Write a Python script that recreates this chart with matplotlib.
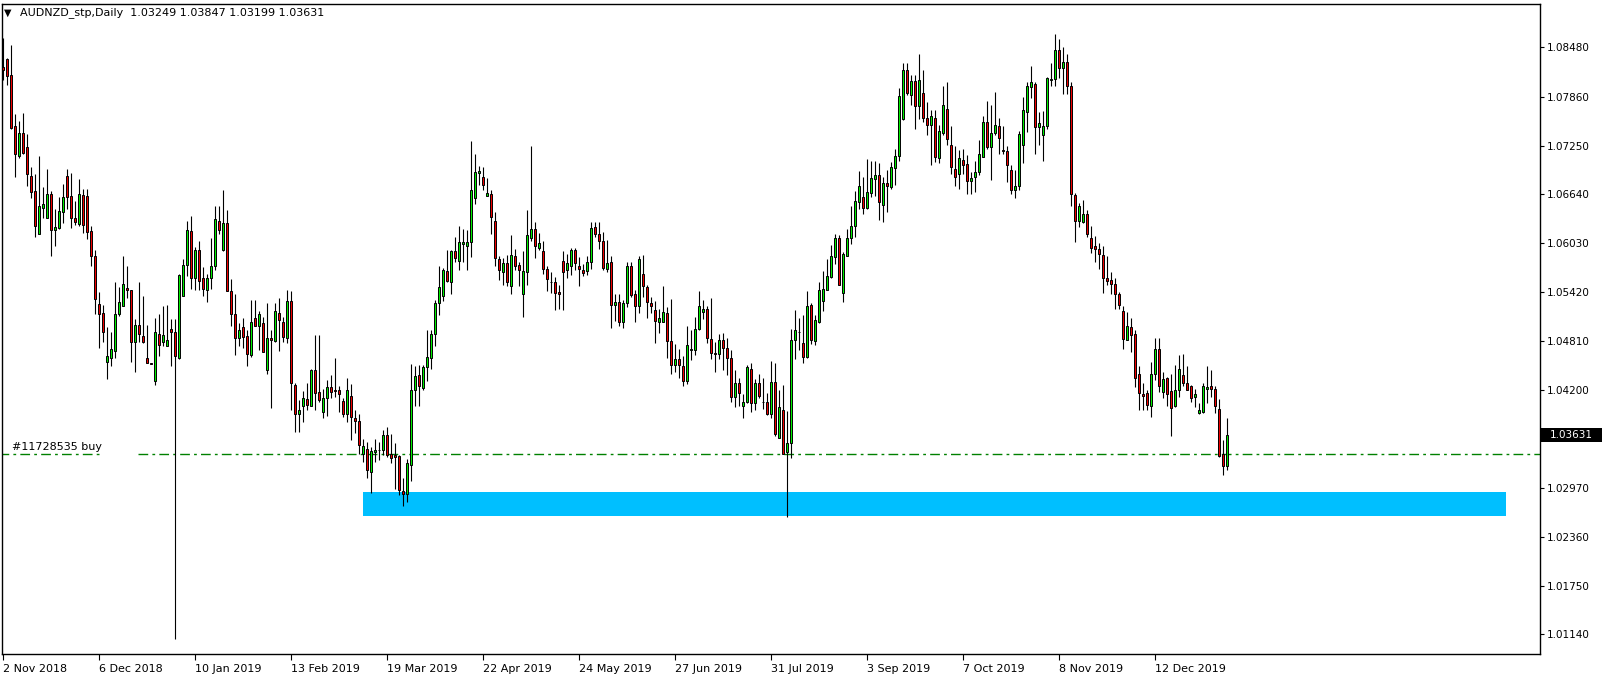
import numpy as np
import matplotlib.pyplot as plt
from matplotlib.patches import Rectangle

# daily AUDNZD bars, 2 Nov 2018 .. early Jan 2020
opens = [
    1.0823, 1.0833, 1.0813, 1.0749, 1.0712, 1.0741, 1.0723, 1.0687, 1.0668, 1.0614,
    1.0647, 1.0635, 1.0664, 1.0619, 1.0622, 1.0642, 1.0687, 1.0662, 1.0634, 1.0627,
    1.0663, 1.0662, 1.0618, 1.0587, 1.0527, 1.0516, 1.0454, 1.0460, 1.0468, 1.0515,
    1.0525, 1.0547, 1.0544, 1.0480, 1.0501, 1.0487, 1.0459, 1.0453, 1.0431, 1.0489,
    1.0479, 1.0475, 1.0496, 1.0492, 1.0459, 1.0537, 1.0576, 1.0618, 1.0560, 1.0594,
    1.0559, 1.0545, 1.0559, 1.0574, 1.0631, 1.0594, 1.0628, 1.0543, 1.0514, 1.0485,
    1.0498, 1.0487, 1.0463, 1.0509, 1.0500, 1.0503, 1.0444, 1.0484, 1.0481, 1.0516,
    1.0505, 1.0485, 1.0531, 1.0426, 1.0389, 1.0399, 1.0408, 1.0400, 1.0444, 1.0417,
    1.0392, 1.0409, 1.0423, 1.0419, 1.0419, 1.0406, 1.0390, 1.0412, 1.0385, 1.0381,
    1.0339, 1.0346, 1.0317, 1.0342, 1.0344, 1.0344, 1.0363, 1.0339, 1.0338, 1.0337,
    1.0293, 1.0290, 1.0326, 1.0420, 1.0438, 1.0422, 1.0448, 1.0460, 1.0490, 1.0528,
    1.0537, 1.0568, 1.0554, 1.0593, 1.0581, 1.0602, 1.0600, 1.0605, 1.0659, 1.0691,
    1.0686, 1.0662, 1.0665, 1.0631, 1.0583, 1.0567, 1.0578, 1.0550, 1.0587, 1.0576,
    1.0540, 1.0567, 1.0610, 1.0621, 1.0597, 1.0593, 1.0571, 1.0554, 1.0554, 1.0542,
    1.0581, 1.0570, 1.0574, 1.0594, 1.0574, 1.0570, 1.0568, 1.0579, 1.0623, 1.0614,
    1.0606, 1.0571, 1.0579, 1.0526, 1.0530, 1.0504, 1.0528, 1.0574, 1.0539, 1.0525,
    1.0565, 1.0548, 1.0528, 1.0519, 1.0504, 1.0505, 1.0516, 1.0481, 1.0451, 1.0458,
    1.0449, 1.0431, 1.0470, 1.0470, 1.0496, 1.0517, 1.0521, 1.0483, 1.0466, 1.0465,
    1.0482, 1.0472, 1.0460, 1.0411, 1.0428, 1.0399, 1.0404, 1.0446, 1.0403, 1.0428,
    1.0404, 1.0404, 1.0389, 1.0429, 1.0359, 1.0395, 1.0342, 1.0353, 1.0482, 1.0492,
    1.0478, 1.0461, 1.0526, 1.0481, 1.0504, 1.0531, 1.0545, 1.0561, 1.0586, 1.0610,
    1.0541, 1.0587, 1.0609, 1.0624, 1.0655, 1.0661, 1.0647, 1.0666, 1.0683, 1.0688,
    1.0651, 1.0678, 1.0673, 1.0697, 1.0712, 1.0758, 1.0819, 1.0788, 1.0806, 1.0775,
    1.0791, 1.0759, 1.0751, 1.0760, 1.0710, 1.0741, 1.0771, 1.0726, 1.0696, 1.0689,
    1.0707, 1.0702, 1.0681, 1.0686, 1.0692, 1.0711, 1.0755, 1.0723, 1.0741, 1.0749,
    1.0719, 1.0718, 1.0695, 1.0669, 1.0674, 1.0726, 1.0767, 1.0798, 1.0802, 1.0748,
    1.0738, 1.0749, 1.0807, 1.0808, 1.0845, 1.0822, 1.0830, 1.0800, 1.0663, 1.0631,
    1.0630, 1.0639, 1.0610, 1.0599, 1.0596, 1.0588, 1.0559, 1.0557, 1.0552, 1.0540,
    1.0518, 1.0482, 1.0498, 1.0489, 1.0439, 1.0414, 1.0416, 1.0400, 1.0439, 1.0471,
    1.0417, 1.0434, 1.0418, 1.0399, 1.0419, 1.0438, 1.0428, 1.0424, 1.0411, 1.0391,
    1.0392, 1.0421, 1.0424, 1.0421, 1.0396, 1.0339, 1.03249,
]
highs = [
    1.0859, 1.0835, 1.0851, 1.0764, 1.0756, 1.0766, 1.0739, 1.0698, 1.0689, 1.0712,
    1.0673, 1.0696, 1.0668, 1.0646, 1.0661, 1.0677, 1.0696, 1.0691, 1.0656, 1.0683,
    1.0671, 1.0671, 1.0624, 1.0594, 1.0542, 1.0526, 1.0498, 1.0492, 1.0554, 1.0548,
    1.0587, 1.0575, 1.0544, 1.0508, 1.0554, 1.0537, 1.0501, 1.0453, 1.0510, 1.0515,
    1.0524, 1.0526, 1.0508, 1.0508, 1.0565, 1.0583, 1.0631, 1.0637, 1.0598, 1.0606,
    1.0573, 1.0565, 1.0609, 1.0649, 1.0649, 1.0669, 1.0644, 1.0558, 1.0540, 1.0503,
    1.0509, 1.0494, 1.0532, 1.0532, 1.0518, 1.0511, 1.0528, 1.0494, 1.0528, 1.0534,
    1.0511, 1.0544, 1.0543, 1.0428, 1.0407, 1.0418, 1.0428, 1.0446, 1.0488, 1.0488,
    1.0421, 1.0432, 1.0438, 1.0459, 1.0424, 1.0409, 1.0435, 1.0427, 1.0395, 1.0390,
    1.0358, 1.0355, 1.0348, 1.0358, 1.0355, 1.0370, 1.0373, 1.0365, 1.0353, 1.0338,
    1.0310, 1.0333, 1.0452, 1.0449, 1.0451, 1.0451, 1.0495, 1.0494, 1.0532, 1.0574,
    1.0572, 1.0595, 1.0594, 1.0611, 1.0624, 1.0621, 1.0619, 1.0731, 1.0714, 1.0699,
    1.0698, 1.0684, 1.0669, 1.0642, 1.0587, 1.0584, 1.0588, 1.0613, 1.0596, 1.0580,
    1.0593, 1.0644, 1.0724, 1.0629, 1.0616, 1.0606, 1.0574, 1.0567, 1.0561, 1.0551,
    1.0593, 1.0589, 1.0597, 1.0597, 1.0586, 1.0577, 1.0587, 1.0629, 1.0629, 1.0629,
    1.0617, 1.0607, 1.0587, 1.0540, 1.0540, 1.0532, 1.0579, 1.0579, 1.0544, 1.0587,
    1.0588, 1.0551, 1.0536, 1.0531, 1.0521, 1.0549, 1.0523, 1.0533, 1.0477, 1.0471,
    1.0462, 1.0499, 1.0494, 1.0511, 1.0543, 1.0532, 1.0524, 1.0534, 1.0479, 1.0490,
    1.0491, 1.0485, 1.0469, 1.0444, 1.0434, 1.0415, 1.0451, 1.0453, 1.0433, 1.0439,
    1.0434, 1.0416, 1.0456, 1.0453, 1.0419, 1.0426, 1.0393, 1.0496, 1.0520, 1.0509,
    1.0513, 1.0543, 1.0528, 1.0513, 1.0555, 1.0568, 1.0583, 1.0601, 1.0615, 1.0613,
    1.0592, 1.0621, 1.0649, 1.0668, 1.0693, 1.0686, 1.0708, 1.0706, 1.0706, 1.0703,
    1.0686, 1.0694, 1.0705, 1.0721, 1.0797, 1.0828, 1.0828, 1.0813, 1.0813, 1.0839,
    1.0819, 1.0780, 1.0769, 1.0770, 1.0751, 1.0799, 1.0804, 1.0749, 1.0725, 1.0719,
    1.0721, 1.0713, 1.0692, 1.0706, 1.0732, 1.0762, 1.0781, 1.0776, 1.0792, 1.0759,
    1.0749, 1.0724, 1.0701, 1.0694, 1.0743, 1.0786, 1.0805, 1.0824, 1.0805, 1.0767,
    1.0768, 1.0811, 1.0828, 1.0864, 1.0858, 1.0848, 1.0840, 1.0805, 1.0666, 1.0653,
    1.0657, 1.0644, 1.0624, 1.0612, 1.0603, 1.0599, 1.0587, 1.0567, 1.0559, 1.0542,
    1.0524, 1.0517, 1.0509, 1.0494, 1.0449, 1.0428, 1.0419, 1.0455, 1.0484, 1.0484,
    1.0442, 1.0436, 1.0439, 1.0451, 1.0463, 1.0465, 1.0450, 1.0426, 1.0421, 1.0403,
    1.0428, 1.0449, 1.0444, 1.0424, 1.0408, 1.0357, 1.03847,
]
lows = [
    1.0807, 1.0801, 1.0746, 1.0686, 1.0710, 1.0715, 1.0675, 1.0660, 1.0611, 1.0614,
    1.0635, 1.0635, 1.0587, 1.0599, 1.0621, 1.0628, 1.0646, 1.0622, 1.0626, 1.0625,
    1.0616, 1.0608, 1.0574, 1.0514, 1.0472, 1.0480, 1.0433, 1.0450, 1.0459, 1.0512,
    1.0525, 1.0534, 1.0455, 1.0442, 1.0480, 1.0478, 1.0453, 1.0452, 1.0426, 1.0462,
    1.0474, 1.0475, 1.0450, 1.0108, 1.0458, 1.0537, 1.0562, 1.0546, 1.0544, 1.0544,
    1.0537, 1.0530, 1.0546, 1.0569, 1.0615, 1.0593, 1.0543, 1.0500, 1.0463, 1.0474,
    1.0472, 1.0449, 1.0461, 1.0499, 1.0469, 1.0467, 1.0440, 1.0397, 1.0480, 1.0468,
    1.0479, 1.0478, 1.0394, 1.0367, 1.0367, 1.0379, 1.0395, 1.0399, 1.0394, 1.0405,
    1.0384, 1.0387, 1.0409, 1.0411, 1.0392, 1.0386, 1.0379, 1.0357, 1.0366, 1.0340,
    1.0330, 1.0309, 1.0291, 1.0330, 1.0332, 1.0338, 1.0336, 1.0328, 1.0296, 1.0288,
    1.0274, 1.0279, 1.0306, 1.0400, 1.0399, 1.0419, 1.0431, 1.0446, 1.0474, 1.0513,
    1.0531, 1.0554, 1.0539, 1.0579, 1.0569, 1.0580, 1.0569, 1.0586, 1.0652, 1.0676,
    1.0669, 1.0662, 1.0615, 1.0574, 1.0557, 1.0551, 1.0549, 1.0540, 1.0569, 1.0550,
    1.0511, 1.0551, 1.0606, 1.0585, 1.0594, 1.0564, 1.0543, 1.0541, 1.0519, 1.0521,
    1.0519, 1.0559, 1.0563, 1.0569, 1.0549, 1.0562, 1.0563, 1.0571, 1.0611, 1.0596,
    1.0569, 1.0567, 1.0497, 1.0506, 1.0499, 1.0497, 1.0523, 1.0536, 1.0504, 1.0516,
    1.0536, 1.0510, 1.0516, 1.0478, 1.0491, 1.0504, 1.0460, 1.0440, 1.0442, 1.0435,
    1.0425, 1.0427, 1.0457, 1.0463, 1.0494, 1.0508, 1.0478, 1.0458, 1.0442, 1.0458,
    1.0444, 1.0438, 1.0405, 1.0398, 1.0399, 1.0384, 1.0403, 1.0392, 1.0395, 1.0410,
    1.0396, 1.0388, 1.0384, 1.0362, 1.0359, 1.0339, 1.0261, 1.0335, 1.0458, 1.0469,
    1.0453, 1.0460, 1.0477, 1.0476, 1.0503, 1.0518, 1.0544, 1.0560, 1.0577, 1.0551,
    1.0530, 1.0587, 1.0602, 1.0611, 1.0646, 1.0639, 1.0646, 1.0661, 1.0662, 1.0632,
    1.0630, 1.0642, 1.0671, 1.0676, 1.0706, 1.0757, 1.0788, 1.0776, 1.0746, 1.0758,
    1.0754, 1.0738, 1.0701, 1.0705, 1.0703, 1.0738, 1.0726, 1.0690, 1.0674, 1.0671,
    1.0690, 1.0664, 1.0665, 1.0667, 1.0688, 1.0711, 1.0721, 1.0682, 1.0738, 1.0715,
    1.0714, 1.0680, 1.0664, 1.0659, 1.0669, 1.0703, 1.0742, 1.0784, 1.0714, 1.0726,
    1.0706, 1.0746, 1.0799, 1.0800, 1.0810, 1.0790, 1.0790, 1.0649, 1.0604, 1.0623,
    1.0628, 1.0611, 1.0591, 1.0579, 1.0571, 1.0541, 1.0551, 1.0540, 1.0521, 1.0521,
    1.0471, 1.0482, 1.0467, 1.0423, 1.0394, 1.0394, 1.0394, 1.0386, 1.0432, 1.0417,
    1.0410, 1.0400, 1.0362, 1.0398, 1.0411, 1.0424, 1.0419, 1.0405, 1.0398, 1.0389,
    1.0391, 1.0403, 1.0411, 1.0391, 1.0336, 1.0313, 1.03199,
]
closes = [
    1.0820, 1.0812, 1.0747, 1.0715, 1.0741, 1.0716, 1.0689, 1.0667, 1.0624, 1.0650,
    1.0652, 1.0664, 1.0619, 1.0623, 1.0643, 1.0661, 1.0661, 1.0634, 1.0629, 1.0664,
    1.0626, 1.0617, 1.0587, 1.0533, 1.0515, 1.0492, 1.0462, 1.0471, 1.0515, 1.0530,
    1.0552, 1.0544, 1.0480, 1.0501, 1.0489, 1.0480, 1.0453, 1.0452, 1.0492, 1.0476,
    1.0488, 1.0482, 1.0492, 1.0462, 1.0563, 1.0576, 1.0619, 1.0560, 1.0594, 1.0556,
    1.0546, 1.0559, 1.0575, 1.0633, 1.0619, 1.0628, 1.0543, 1.0515, 1.0485, 1.0495,
    1.0486, 1.0465, 1.0504, 1.0500, 1.0514, 1.0467, 1.0485, 1.0482, 1.0518, 1.0507,
    1.0486, 1.0531, 1.0428, 1.0389, 1.0395, 1.0409, 1.0401, 1.0445, 1.0416, 1.0407,
    1.0410, 1.0423, 1.0417, 1.0418, 1.0414, 1.0390, 1.0420, 1.0386, 1.0381, 1.0351,
    1.0349, 1.0319, 1.0343, 1.0345, 1.0345, 1.0363, 1.0338, 1.0335, 1.0336, 1.0294,
    1.0290, 1.0328, 1.0420, 1.0437, 1.0424, 1.0448, 1.0461, 1.0490, 1.0528, 1.0548,
    1.0569, 1.0556, 1.0593, 1.0584, 1.0605, 1.0604, 1.0605, 1.0669, 1.0692, 1.0693,
    1.0676, 1.0666, 1.0636, 1.0585, 1.0569, 1.0578, 1.0554, 1.0588, 1.0575, 1.0569,
    1.0568, 1.0613, 1.0621, 1.0600, 1.0603, 1.0571, 1.0558, 1.0554, 1.0541, 1.0539,
    1.0567, 1.0578, 1.0594, 1.0578, 1.0571, 1.0566, 1.0579, 1.0622, 1.0614, 1.0606,
    1.0572, 1.0578, 1.0526, 1.0530, 1.0505, 1.0528, 1.0574, 1.0538, 1.0525, 1.0583,
    1.0550, 1.0529, 1.0524, 1.0506, 1.0509, 1.0517, 1.0481, 1.0451, 1.0458, 1.0451,
    1.0431, 1.0476, 1.0471, 1.0496, 1.0525, 1.0521, 1.0484, 1.0466, 1.0465, 1.0482,
    1.0472, 1.0460, 1.0411, 1.0428, 1.0416, 1.0404, 1.0448, 1.0403, 1.0428, 1.0412,
    1.0404, 1.0389, 1.0429, 1.0364, 1.0398, 1.0339, 1.0353, 1.0482, 1.0495, 1.0492,
    1.0461, 1.0524, 1.0482, 1.0507, 1.0545, 1.0546, 1.0562, 1.0587, 1.0610, 1.0551,
    1.0589, 1.0610, 1.0625, 1.0656, 1.0674, 1.0647, 1.0667, 1.0684, 1.0688, 1.0655,
    1.0678, 1.0674, 1.0698, 1.0712, 1.0787, 1.0819, 1.0791, 1.0806, 1.0775, 1.0807,
    1.0759, 1.0751, 1.0762, 1.0711, 1.0743, 1.0776, 1.0733, 1.0698, 1.0686, 1.0710,
    1.0701, 1.0681, 1.0685, 1.0692, 1.0714, 1.0755, 1.0723, 1.0741, 1.0751, 1.0734,
    1.0718, 1.0701, 1.0669, 1.0674, 1.0740, 1.0769, 1.0799, 1.0804, 1.0748, 1.0753,
    1.0749, 1.0810, 1.0808, 1.0845, 1.0822, 1.0830, 1.0800, 1.0664, 1.0631, 1.0650,
    1.0639, 1.0614, 1.0597, 1.0596, 1.0589, 1.0559, 1.0556, 1.0552, 1.0540, 1.0526,
    1.0483, 1.0500, 1.0488, 1.0434, 1.0416, 1.0412, 1.0401, 1.0439, 1.0471, 1.0425,
    1.0433, 1.0415, 1.0397, 1.0419, 1.0446, 1.0428, 1.0420, 1.0410, 1.0414, 1.0394,
    1.0424, 1.0423, 1.0421, 1.0399, 1.0337, 1.0324, 1.03631,
]

date_labels = ['2 Nov 2018', '6 Dec 2018', '10 Jan 2019', '13 Feb 2019', '19 Mar 2019',
               '22 Apr 2019', '24 May 2019', '27 Jun 2019', '31 Jul 2019', '3 Sep 2019',
               '7 Oct 2019', '8 Nov 2019', '12 Dec 2019']
label_step = 24   # bars between the date labels
price_ticks = [1.08480, 1.07860, 1.07250, 1.06640, 1.06030, 1.05420, 1.04810,
               1.04200, 1.03590, 1.02970, 1.02360, 1.01750, 1.01140]

order_price = 1.03393           # "#11728535 buy" line
zone_start, zone_end = 90, 375.7  # support box, in bars
zone_low, zone_high = 1.02618, 1.02918

W, H = 1604, 678
fig = plt.figure(figsize=(W / 100, H / 100), dpi=100)
fig.patch.set_facecolor('white')
# frame in pixels: left 2, right 1540, top 4, bottom 654
ax = fig.add_axes([2 / W, (H - 654) / H, 1538 / W, 650 / H])

o = np.array(opens)
h = np.array(highs)
l = np.array(lows)
c = np.array(closes)
idx = np.arange(len(o))

# support zone behind everything
ax.add_patch(Rectangle((zone_start, zone_low), zone_end - zone_start, zone_high - zone_low,
                       facecolor='#00BFFF', edgecolor='none', zorder=1))

# order line (dash-dot, with a gap after the label)
dd = (0, (7, 3, 2, 3))
ax.plot([-1, 24.7], [order_price, order_price], color='#008000', lw=1, ls=dd, zorder=2)
ax.plot([33.7, 400], [order_price, order_price], color='#008000', lw=1, ls=dd, zorder=2)
ax.text(2.2, order_price + 0.0003, '#11728535 buy', fontsize=8, va='bottom', ha='left',
        color='black', zorder=2)

# candles
up = c >= o
ax.vlines(idx, l, h, colors='black', linewidth=0.8, zorder=3)
ax.bar(idx, c - o, bottom=o, width=0.55,
       color=np.where(up, '#00EE00', '#EE0000'), edgecolor='black', linewidth=0.7, zorder=4)

ax.set_xlim(-0.33, 384.17)
ax.set_ylim(1.00894, 1.09019)

ax.set_xticks(np.arange(len(date_labels)) * label_step)
ax.set_xticklabels(date_labels, ha='left', fontsize=8)
ax.tick_params(axis='x', direction='out', length=4, width=0.8, pad=3)

ax.yaxis.tick_right()
ax.set_yticks(price_ticks)
ax.set_yticklabels(['%.5f' % p for p in price_ticks], fontsize=7.5)
ax.tick_params(axis='y', direction='out', length=3, width=0.8, pad=2)

for s in ax.spines.values():
    s.set_linewidth(1)
    s.set_color('black')

# current price box on the price scale (covers most of the 1.03590 label, as in MT4)
fig.patches.append(Rectangle((1541 / W, 1 - 442 / H), 61 / W, 14 / H,
                             transform=fig.transFigure, facecolor='black',
                             edgecolor='none', zorder=5))
fig.text(1571 / W, 1 - 435 / H, '1.03631', fontsize=7.5, color='white', ha='center',
         va='center', zorder=6)

# header
fig.text(4 / W, 1 - 13 / H, '\u25bc', fontsize=7, va='center', ha='left')
fig.text(20 / W, 1 - 13 / H, 'AUDNZD_stp,Daily  1.03249 1.03847 1.03199 1.03631',
         fontsize=8, va='center', ha='left')

fig.savefig('out.png', dpi=100, facecolor='white')
